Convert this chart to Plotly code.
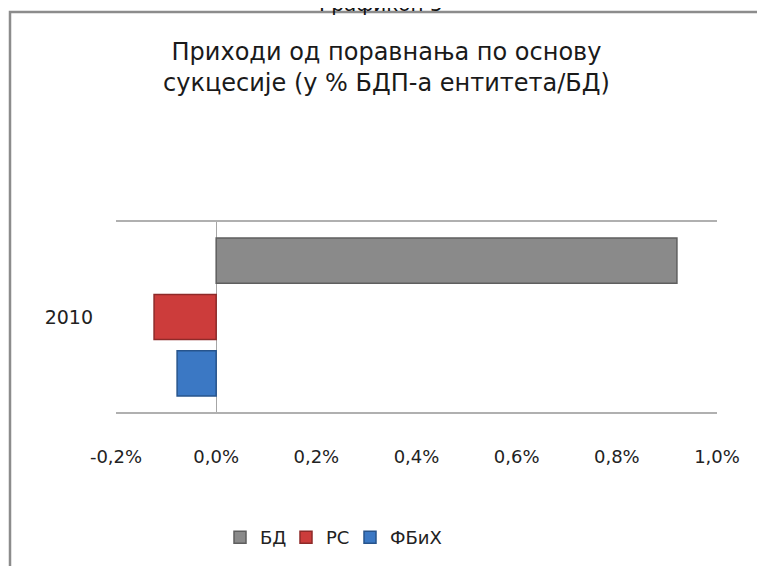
import plotly.graph_objects as go

# the page keeps the browser's 8px body margin, so the figure is laid out 8px in
OFF = 8
W, H = 765 - OFF, 566 - OFF

categories = ["2010"]
series_names = ["БД", "РС", "ФБиХ"]
series_values = [[0.92], [-0.124], [-0.078]]
series_colors = ["#8a8a8a", "#cc3c3b", "#3b78c4"]
series_edges = ["#5f5f5f", "#8e2a29", "#27548c"]

tick_vals = [-0.2, 0.0, 0.2, 0.4, 0.6, 0.8, 1.0]
tick_text = ["-0,2%", "0,0%", "0,2%", "0,4%", "0,6%", "0,8%", "1,0%"]

title_text = "Приходи од поравнања по основу<br>сукцесије (у % БДП-а ентитета/БД)"
caption_text = "Графикон 5"

# plot area in figure pixels
L, R, T, B = 116 - OFF, 717 - OFF, 222 - OFF, 412 - OFF

# one small legend per series so the entries sit as tightly as in the original
legend_ids = ["legend", "legend2", "legend3"]
legend_x = [212, 278, 342]

fig = go.Figure()
for name, vals, col, edge, lg in zip(series_names, series_values, series_colors,
                                     series_edges, legend_ids):
    fig.add_trace(go.Bar(
        name=name, y=categories, x=vals, orientation="h", legend=lg,
        marker=dict(color=col, line=dict(color=edge, width=1.5)),
    ))


def px_x(p):
    return (p - L) / (R - L)


def px_y(p):
    return (B - p) / (B - T)


legend_style = dict(
    orientation="h", xanchor="left", xref="container", yref="container",
    y=1 - 511 / H, yanchor="top", bgcolor="rgba(0,0,0,0)",
    font=dict(family="DejaVu Sans", size=18, color="#222"),
)

fig.update_layout(
    width=W, height=H,
    margin=dict(l=L, r=W - R, t=T, b=H - B),
    paper_bgcolor="white", plot_bgcolor="white",
    barmode="group", bargap=0.11, bargroupgap=0.2,
    font=dict(family="DejaVu Sans", size=18, color="#222"),
    title=dict(
        text=title_text, x=0.5, xanchor="center",
        y=1 - 52 / H, yanchor="top",
        font=dict(family="DejaVu Sans", size=24, color="#1a1a1a"),
    ),
    xaxis=dict(
        range=[-0.2, 1.0], tickvals=tick_vals, ticktext=tick_text,
        showgrid=False, zeroline=True, zerolinecolor="#a6a6a6", zerolinewidth=1,
        showline=True, mirror=True, linecolor="#b0b0b0", linewidth=1.5,
        ticks="", ticklabelstandoff=28,
    ),
    yaxis=dict(
        autorange="reversed", showgrid=False, showline=False, ticks="",
        ticklabelstandoff=22, tickfont=dict(size=19),
    ),
    showlegend=True,
    legend=dict(legend_style, x=legend_x[0] / W),
    legend2=dict(legend_style, x=legend_x[1] / W),
    legend3=dict(legend_style, x=legend_x[2] / W),
    shapes=[dict(
        type="rect", xref="paper", yref="paper",
        x0=px_x(2), x1=px_x(900), y0=px_y(4), y1=px_y(700),
        line=dict(color="#8c8c8c", width=2.5), fillcolor="rgba(0,0,0,0)",
        layer="below",
    )],
    annotations=[dict(
        text=caption_text, xref="paper", yref="paper",
        x=px_x(381 - OFF), y=px_y(10), xanchor="center", yanchor="bottom",
        showarrow=False, font=dict(family="DejaVu Sans", size=20, color="#111"),
    )],
)

fig.write_html("out.html")
